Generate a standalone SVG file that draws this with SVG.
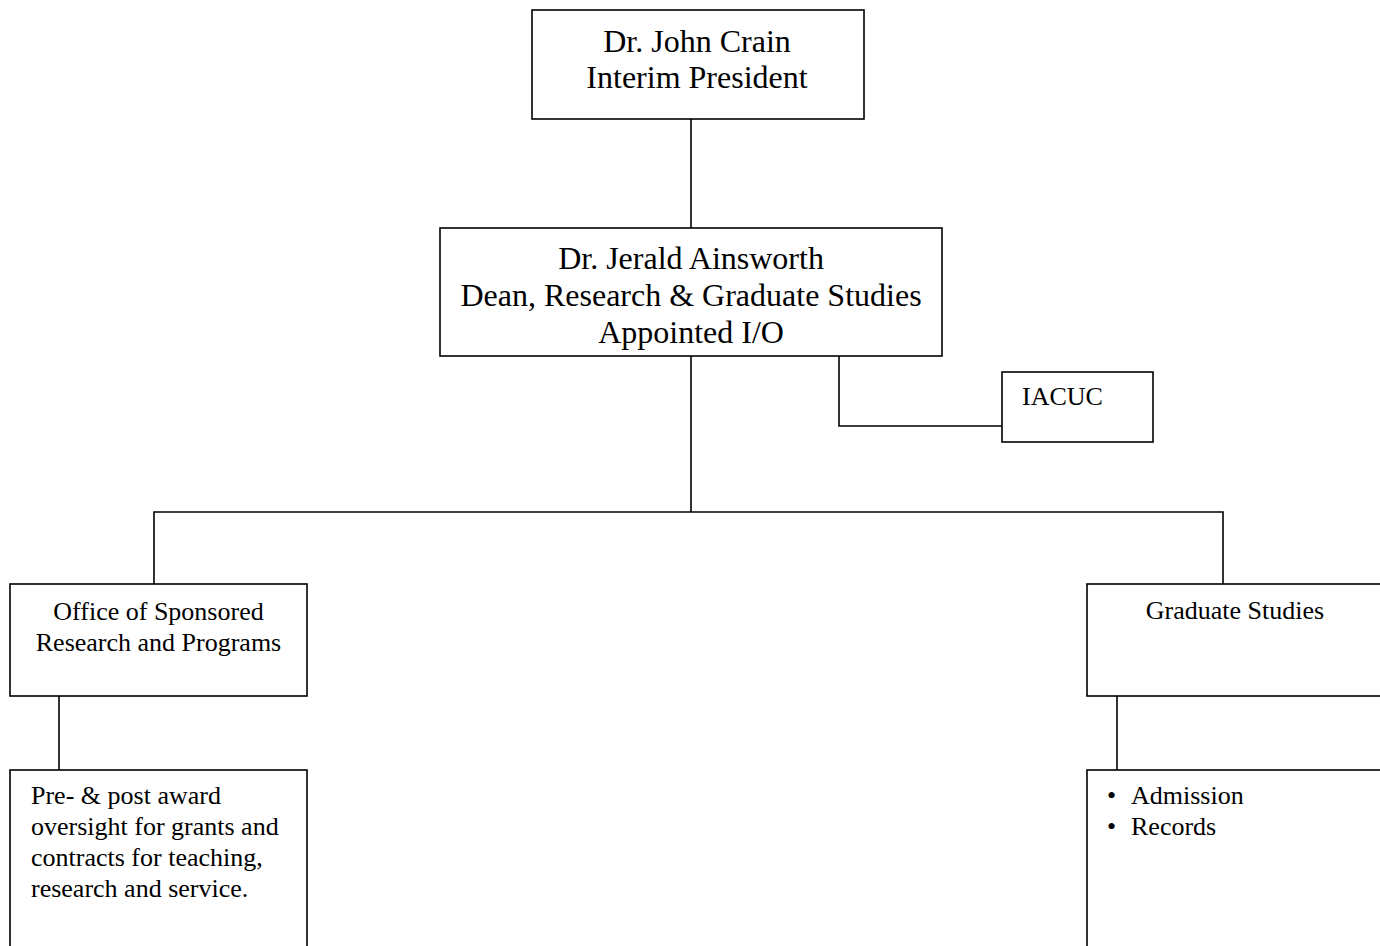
<svg xmlns="http://www.w3.org/2000/svg" width="1380" height="946" viewBox="0 0 1380 946">
<style>
.box{fill:#fff;stroke:#000;stroke-width:1.6}
.ln{fill:none;stroke:#000;stroke-width:1.6}
.big{font-family:"Liberation Serif","Times New Roman",serif;font-size:32px;fill:#000;text-anchor:middle}
.sm{font-family:"Liberation Serif","Times New Roman",serif;font-size:26px;fill:#000}
.c{text-anchor:middle}
</style>
<rect width="1380" height="946" fill="#fff"/>
<g id="connectors">
<line class="ln" x1="691" y1="119" x2="691" y2="228"/>
<line class="ln" x1="691" y1="356" x2="691" y2="512"/>
<polyline class="ln" points="154,584 154,512 1223,512 1223,584"/>
<polyline class="ln" points="839,356 839,426 1002,426"/>
<line class="ln" x1="59" y1="696" x2="59" y2="770"/>
<line class="ln" x1="1117" y1="696" x2="1117" y2="770"/>
</g>
<g id="president">
<rect class="box" x="532" y="10" width="332" height="109"/>
<text class="big" x="697" y="52">Dr. John Crain</text>
<text class="big" x="697" y="88">Interim President</text>
</g>
<g id="dean">
<rect class="box" x="440" y="228" width="502" height="128"/>
<text class="big" x="691" y="269">Dr. Jerald Ainsworth</text>
<text class="big" x="691" y="306">Dean, Research &amp; Graduate Studies</text>
<text class="big" x="691" y="343">Appointed I/O</text>
</g>
<g id="iacuc">
<rect class="box" x="1002" y="372" width="151" height="70"/>
<text class="sm" x="1022" y="405">IACUC</text>
</g>
<g id="osrp">
<rect class="box" x="10" y="584" width="297" height="112"/>
<text class="sm c" x="158.5" y="620">Office of Sponsored</text>
<text class="sm c" x="158.5" y="651">Research and Programs</text>
</g>
<g id="graduate">
<rect class="box" x="1087" y="584" width="297" height="112"/>
<text class="sm c" x="1235" y="619">Graduate Studies</text>
</g>
<g id="osrp-detail">
<rect class="box" x="10" y="770" width="297" height="200"/>
<text class="sm" x="31" y="804">Pre- &amp; post award</text>
<text class="sm" x="31" y="835">oversight for grants and</text>
<text class="sm" x="31" y="866">contracts for teaching,</text>
<text class="sm" x="31" y="897">research and service.</text>
</g>
<g id="graduate-detail">
<rect class="box" x="1087" y="770" width="297" height="200"/>
<text class="sm" x="1107" y="804" font-size="28">•</text>
<text class="sm" x="1131" y="804">Admission</text>
<text class="sm" x="1107" y="835" font-size="28">•</text>
<text class="sm" x="1131" y="835">Records</text>
</g>
</svg>
